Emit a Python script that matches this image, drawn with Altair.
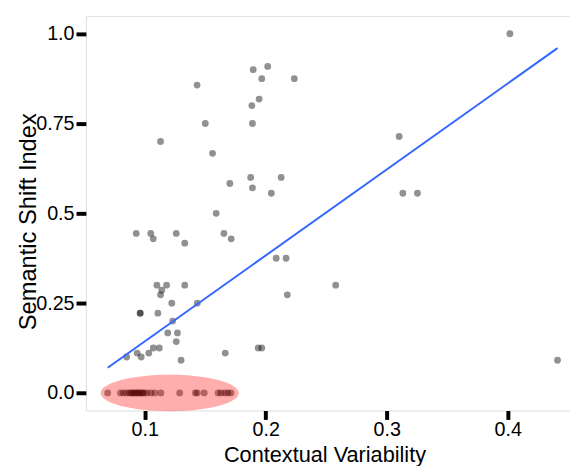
import altair as alt
import pandas as pd

# Scatter points (Contextual Variability, Semantic Shift Index)
cv_nonzero = [0.1896, 0.1432, 0.1885, 0.1945, 0.150, 0.189, 0.113, 0.156, 0.1875, 0.1703,
              0.189, 0.2016, 0.1967, 0.2236, 0.2127, 0.2046, 0.159, 0.133, 0.1654, 0.1714,
              0.2086, 0.2168, 0.133, 0.2178, 0.1434, 0.0929, 0.1049, 0.107, 0.126, 0.110,
              0.118, 0.114, 0.113, 0.1223, 0.0962, 0.0962, 0.1108, 0.123, 0.119, 0.127,
              0.126, 0.107, 0.112, 0.1033, 0.0937, 0.097, 0.085, 0.130, 0.1665, 0.1937,
              0.1967, 0.4018, 0.3103, 0.3133, 0.3254, 0.2578, 0.4412]
ssi_nonzero = [0.900, 0.857, 0.800, 0.818, 0.750, 0.750, 0.700, 0.667, 0.600, 0.583,
               0.571, 0.909, 0.875, 0.875, 0.600, 0.556, 0.500, 0.417, 0.444, 0.429,
               0.375, 0.375, 0.300, 0.273, 0.250, 0.444, 0.444, 0.429, 0.444, 0.300,
               0.300, 0.286, 0.273, 0.250, 0.222, 0.222, 0.222, 0.200, 0.167, 0.167,
               0.143, 0.125, 0.125, 0.111, 0.111, 0.100, 0.100, 0.091, 0.111, 0.125,
               0.125, 1.000, 0.714, 0.556, 0.556, 0.300, 0.091]
cv_zero = [0.0693, 0.0799, 0.0823, 0.0848, 0.0872, 0.0885, 0.0896, 0.0910, 0.0921, 0.0935,
           0.0945, 0.0960, 0.0970, 0.0985, 0.0994, 0.1019, 0.1051, 0.1084, 0.1133, 0.1288,
           0.1418, 0.1434, 0.1491, 0.1606, 0.1630, 0.1663, 0.1687, 0.1712]

# Fitted line endpoints
fit_x = [0.0693, 0.4412]
fit_y = [0.070, 0.960]

# Highlight ellipse centre
ell_x = [0.1206]
ell_y = [0.0]

x_major = [0.1, 0.2, 0.3, 0.4]
x_minor = [0.15, 0.25, 0.35, 0.45]
y_major = [0.0, 0.25, 0.5, 0.75, 1.0]
y_minor = [0.125, 0.375, 0.625, 0.875]

X_DOMAIN = [0.0513, 0.4515]
Y_DOMAIN = [-0.049, 1.049]

pts = pd.DataFrame({
    "cv": cv_nonzero + cv_zero,
    "ssi": ssi_nonzero + [0.0] * len(cv_zero),
})
fit = pd.DataFrame({"cv": fit_x, "ssi": fit_y})
ell = pd.DataFrame({"cv": ell_x, "ssi": ell_y})
xminor_df = pd.DataFrame({"v": x_minor})
yminor_df = pd.DataFrame({"v": y_minor})

FONT = "Liberation Sans"

xscale = alt.Scale(domain=X_DOMAIN, nice=False, zero=False)
yscale = alt.Scale(domain=Y_DOMAIN, nice=False, zero=False)

xaxis = alt.Axis(
    values=x_major, format=".1f", title="Contextual Variability",
    labelFontSize=20, labelColor="black", labelFont=FONT, labelFontWeight="normal", labelPadding=0,
    tickSize=9, tickWidth=4, tickColor="black", domain=False,
    grid=True, gridColor="white", gridWidth=1.2,
    titleFontSize=22, titleFont=FONT, titleFontWeight="normal", titleColor="black",
    titleX=242, titleY=52, titleBaseline="alphabetic", titleAlign="center",
)
yaxis = alt.Axis(
    values=y_major,
    labelExpr="datum.value == 0.75 ? '0.75' : datum.value == 0.25 ? '0.25' : format(datum.value, '.1f')",
    title="Semantic Shift Index",
    labelFontSize=20, labelColor="black", labelFont=FONT, labelFontWeight="normal", labelPadding=2,
    tickSize=10, tickWidth=4, tickColor="black", domain=False,
    grid=True, gridColor="white", gridWidth=1.2,
    titleFontSize=24, titleFont=FONT, titleFontWeight="normal", titleColor="black",
    titleX=-58, titleY=208, titleAngle=-90, titleBaseline="middle", titleAlign="center",
)

xminor_rules = alt.Chart(xminor_df).mark_rule(color="white", strokeWidth=0.6, clip=True).encode(
    x=alt.X("v:Q", scale=xscale, axis=xaxis)
)
yminor_rules = alt.Chart(yminor_df).mark_rule(color="white", strokeWidth=0.6, clip=True).encode(
    y=alt.Y("v:Q", scale=yscale, axis=yaxis)
)

points = alt.Chart(pts).mark_circle(size=48, color="black", opacity=0.43).encode(
    x=alt.X("cv:Q", scale=xscale, axis=xaxis),
    y=alt.Y("ssi:Q", scale=yscale, axis=yaxis),
)

line = alt.Chart(fit).mark_line(color="#3366FF", strokeWidth=2).encode(
    x=alt.X("cv:Q", scale=xscale),
    y=alt.Y("ssi:Q", scale=yscale),
)

ELLIPSE = ("M -1 0 C -1 -0.1458 -0.5523 -0.264 0 -0.264 "
           "C 0.5523 -0.264 1 -0.1458 1 0 "
           "C 1 0.1458 0.5523 0.264 0 0.264 "
           "C -0.5523 0.264 -1 0.1458 -1 0 Z")

ellipse = alt.Chart(ell).mark_point(
    shape=ELLIPSE, size=19600, filled=True, color="#FF0000", opacity=0.32, strokeWidth=0
).encode(
    x=alt.X("cv:Q", scale=xscale),
    y=alt.Y("ssi:Q", scale=yscale),
)

chart = alt.layer(xminor_rules, yminor_rules, points, line, ellipse).properties(
    width=491, height=400,
    autosize=alt.AutoSizeParams(type="none"),
    padding={"left": 79, "top": 5, "right": 0, "bottom": 53},
).configure_view(
    fill="#EEEEEE", stroke=None
).configure_axis(
    labelFont=FONT, labelFontSize=20, labelFontWeight="normal", labelColor="black"
).configure(background="white")

chart.save("out.html", embed_options={"renderer": "svg", "actions": False})
